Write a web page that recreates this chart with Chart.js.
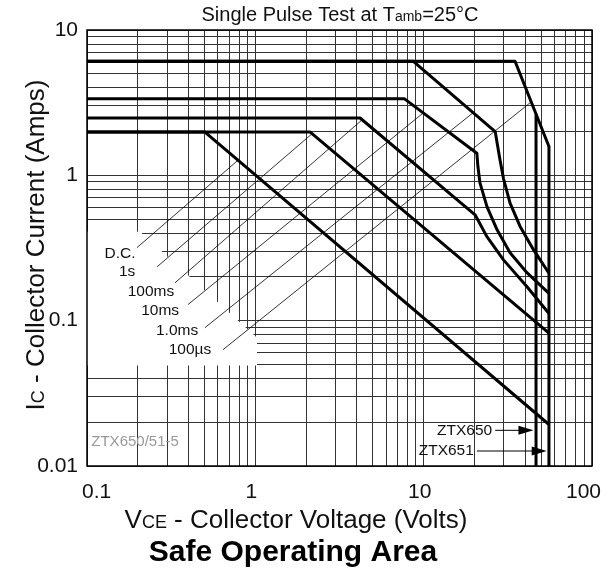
<!DOCTYPE html>
<html>
<head>
<meta charset="utf-8">
<script src="https://cdn.jsdelivr.net/npm/chart.js@4.4.0/dist/chart.umd.min.js"></script>
<style>
  html, body { margin: 0; padding: 0; background: #fff; }
</style>
</head>
<body>
<canvas id="soa" width="608" height="573"></canvas>
<script>
// axes (VCE volts / IC amps), labelled decades and the 1..9 grid steps
const xLabels = [0.1, 1, 10, 100];
const yLabels = [0.01, 0.1, 1, 10];
const gridSteps = [1, 2, 3, 4, 5, 6, 7, 8, 9];

// SOA curves
const dcV = [0.1, 0.5, 55.5];
const dcI = [1.99, 1.99, 0.0193];
const s1V = [0.1, 2.11, 55.5];
const s1I = [1.99, 1.99, 0.082];
const ms100V = [0.1, 4.19, 20.2, 23.7, 29.8, 41.0, 55.5];
const ms100I = [2.48, 2.48, 0.535, 0.38, 0.262, 0.172, 0.112];
const ms10V = [0.1, 7.7, 20.7, 21.0, 21.6, 23.8, 27.3, 32.6, 41.2, 55.5];
const ms10I = [3.36, 3.36, 1.42, 1.15, 0.888, 0.607, 0.422, 0.293, 0.213, 0.154];
const ms1V = [0.1, 8.65, 26.6, 28.4, 29.8, 32.6, 37.4, 44.9, 55.5];
const ms1I = [6.1, 6.1, 2.0, 1.28, 0.95, 0.644, 0.445, 0.308, 0.212];
const us100V = [0.1, 34.9, 55.5];
const us100I = [6.1, 6.1, 1.58];
// VCEO limits of the two parts
const ztx650V = [46.5, 46.5];
const ztx650I = [2.6, 0.01];
const ztx651V = [55.5, 55.5];
const ztx651I = [1.58, 0.01];

// curve labels and their leader lines
const curveNames = ['D.C.', '1s', '100ms', '10ms', '1.0ms', '100\u00b5s'];
const labelV = [0.157, 0.173, 0.240, 0.272, 0.343, 0.409];
const labelI = [0.289, 0.217, 0.158, 0.117, 0.0853, 0.0632];
const leadFromV = [0.198, 0.261, 0.333, 0.398, 0.502, 0.643];
const leadFromI = [0.318, 0.235, 0.182, 0.129, 0.0895, 0.0632];
const leadToV = [0.789, 2.17, 4.31, 9.91, 19.7, 43.5];
const leadToI = [1.27, 1.93, 2.41, 2.68, 2.70, 3.2];

// white panel behind the labels
const maskV = [0.1, 0.2066, 1.023, 1.023, 0.1];
const maskI = [0.409, 0.409, 0.0764, 0.0491, 0.0491];

// part number arrows
const partNames = ['ZTX650', 'ZTX651'];
const arrowFromV = [26.6, 20.7];
const arrowToV = [44.9, 53.8];
const arrowI = [0.0176, 0.01268];

const FONT = '"Liberation Sans", Arial, sans-serif';

const pts = (vs, is) => vs.map((v, i) => ({ x: v, y: is[i] }));
const gridVals = (lo, hi) => {
  const out = [];
  for (let e = Math.log10(lo); e < Math.log10(hi) - 1e-9; e++) {
    gridSteps.forEach(k => out.push(+(k * Math.pow(10, e)).toPrecision(6)));
  }
  out.push(hi);
  return out;
};

const curve = (label, vs, is) => ({
  label: label,
  data: pts(vs, is),
  borderColor: '#000',
  borderWidth: 3,
  pointRadius: 0,
  fill: false,
  tension: 0,
  borderJoinStyle: 'round'
});

function richText(ctx, parts, cx, baseY) {
  let total = 0;
  parts.forEach(p => { ctx.font = p[1]; total += ctx.measureText(p[0]).width; });
  let x = cx - total / 2;
  ctx.textAlign = 'left';
  ctx.textBaseline = 'alphabetic';
  parts.forEach(p => {
    ctx.font = p[1];
    ctx.fillText(p[0], x, baseY);
    x += ctx.measureText(p[0]).width;
  });
}

const sheetPlugin = {
  id: 'sheet',
  beforeDatasetsDraw(chart) {
    const { ctx, scales: { x, y } } = chart;
    const px = v => x.getPixelForValue(v), py = v => y.getPixelForValue(v);
    ctx.save();
    ctx.fillStyle = '#fff';
    ctx.beginPath();
    maskV.forEach((v, i) => {
      if (i === 0) ctx.moveTo(px(v), py(maskI[i]));
      else ctx.lineTo(px(v), py(maskI[i]));
    });
    ctx.closePath();
    ctx.fill();

    ctx.strokeStyle = '#000';
    ctx.lineWidth = 0.8;
    curveNames.forEach((n, i) => {
      ctx.beginPath();
      ctx.moveTo(px(leadFromV[i]), py(leadFromI[i]));
      ctx.lineTo(px(leadToV[i]), py(leadToI[i]));
      ctx.stroke();
    });

    ctx.fillStyle = '#111';
    ctx.font = '15.5px ' + FONT;
    ctx.textAlign = 'center';
    ctx.textBaseline = 'middle';
    curveNames.forEach((n, i) => ctx.fillText(n, px(labelV[i]), py(labelI[i])));

    ctx.fillStyle = '#999';
    ctx.font = '15px ' + FONT;
    ctx.fillText('ZTX650/51-5', px(0.193), py(0.0147));
    ctx.restore();
  },
  afterDatasetsDraw(chart) {
    const { ctx, chartArea: a, scales: { x, y } } = chart;
    const px = v => x.getPixelForValue(v), py = v => y.getPixelForValue(v);
    ctx.save();
    ctx.strokeStyle = '#000';
    ctx.lineWidth = 1.5;
    ctx.strokeRect(a.left, a.top, a.right - a.left, a.bottom - a.top);

    // part arrows
    ctx.lineWidth = 1;
    ctx.font = '15.5px ' + FONT;
    ctx.textAlign = 'right';
    ctx.textBaseline = 'middle';
    partNames.forEach((n, i) => {
      const x0 = px(arrowFromV[i]), x1 = px(arrowToV[i]), yy = py(arrowI[i]);
      ctx.fillStyle = '#111';
      ctx.fillText(n, x0 - 3, yy);
      ctx.beginPath();
      ctx.moveTo(x0, yy);
      ctx.lineTo(x1 - 12, yy);
      ctx.stroke();
      ctx.fillStyle = '#000';
      ctx.beginPath();
      ctx.moveTo(x1, yy);
      ctx.lineTo(x1 - 15, yy - 4.5);
      ctx.lineTo(x1 - 15, yy + 4.5);
      ctx.closePath();
      ctx.fill();
    });
    ctx.restore();
  },
  afterDraw(chart) {
    const { ctx, chartArea: a, scales: { x } } = chart;
    ctx.save();
    ctx.fillStyle = '#111';

    // x tick labels
    ctx.font = '21px ' + FONT;
    ctx.textBaseline = 'alphabetic';
    xLabels.forEach((v, i) => {
      const p = x.getPixelForValue(v);
      if (i === 0) { ctx.textAlign = 'left'; ctx.fillText(String(v), p - 5, a.bottom + 32); }
      else if (i === xLabels.length - 1) { ctx.textAlign = 'right'; ctx.fillText(String(v), p + 9, a.bottom + 32); }
      else { ctx.textAlign = 'center'; ctx.fillText(String(v), p - 4, a.bottom + 32); }
    });

    // titles
    richText(ctx, [['Single Pulse Test at T', '20px ' + FONT], ['amb', '14px ' + FONT], ['=25\u00b0C', '20px ' + FONT]], 340, 21);
    richText(ctx, [['V', '26px ' + FONT], ['CE', '18px ' + FONT], [' - Collector Voltage (Volts)', '26px ' + FONT]], 296, 528);
    ctx.fillStyle = '#000';
    richText(ctx, [['Safe Operating Area', 'bold 30px ' + FONT]], 293, 561);

    ctx.fillStyle = '#111';
    ctx.translate(35, 245);
    ctx.rotate(-Math.PI / 2);
    richText(ctx, [['I', '26px ' + FONT], ['C', '18px ' + FONT], [' - Collector Current (Amps)', '26px ' + FONT]], 0, 9);
    ctx.restore();
  }
};

new Chart(document.getElementById('soa').getContext('2d'), {
  type: 'line',
  data: {
    datasets: [
      curve('D.C.', dcV, dcI),
      curve('1s', s1V, s1I),
      curve('100ms', ms100V, ms100I),
      curve('10ms', ms10V, ms10I),
      curve('1.0ms', ms1V, ms1I),
      curve('100us', us100V, us100I),
      curve('ZTX650', ztx650V, ztx650I),
      curve('ZTX651', ztx651V, ztx651I)
    ]
  },
  options: {
    responsive: false,
    animation: false,
    layout: { padding: { top: 30, right: 16, left: 0, bottom: 0 } },
    plugins: {
      legend: { display: false },
      tooltip: { enabled: false },
      title: { display: false }
    },
    scales: {
      x: {
        type: 'logarithmic',
        min: 0.1,
        max: 100,
        afterBuildTicks: s => { s.ticks = gridVals(0.1, 100).map(v => ({ value: v })); },
        afterFit: s => { s.height = 107; },
        ticks: { display: false },
        grid: { color: '#333', lineWidth: 1, drawTicks: false },
        border: { display: false }
      },
      y: {
        type: 'logarithmic',
        min: 0.01,
        max: 10,
        afterBuildTicks: s => { s.ticks = gridVals(0.01, 10).map(v => ({ value: v })); },
        afterFit: s => { s.width = 87; },
        ticks: {
          autoSkip: false,
          padding: 9,
          color: '#111',
          font: { family: FONT, size: 21 },
          callback: v => (yLabels.includes(v) ? String(v) : '')
        },
        grid: { color: '#333', lineWidth: 1, drawTicks: false },
        border: { display: false }
      }
    }
  },
  plugins: [sheetPlugin]
});
</script>
</body>
</html>
